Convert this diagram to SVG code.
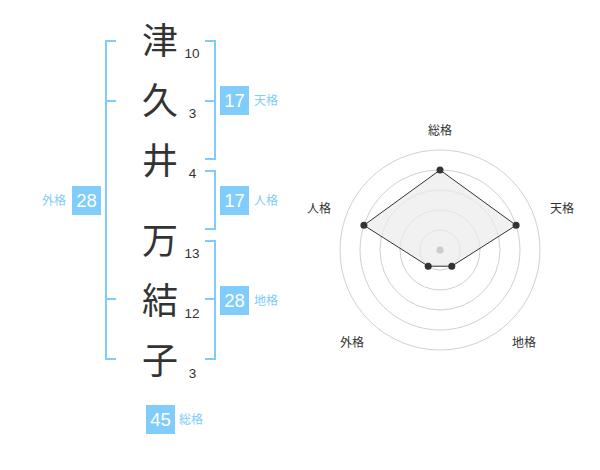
<svg xmlns="http://www.w3.org/2000/svg" width="600" height="470" viewBox="0 0 600 470">
<style>
.ch{font-family:"Noto Sans CJK JP","Noto Sans CJK SC",sans-serif;font-size:36px;fill:#333;text-anchor:middle}
.num{font-family:"Liberation Sans",Arial,sans-serif;font-size:13.5px;fill:#333;text-anchor:middle}
.br{fill:none;stroke:#80ccfa;stroke-width:2}
.box{fill:#80ccfa}
.bt{font-family:"Liberation Sans",Arial,sans-serif;font-size:18.5px;fill:#fff;text-anchor:middle}
.lb{font-family:"Noto Sans CJK JP","Noto Sans CJK SC",sans-serif;font-size:12px;fill:#80ccfa}
.rl{font-family:"Noto Sans CJK JP","Noto Sans CJK SC",sans-serif;font-size:12px;fill:#333;text-anchor:middle}
.ring{fill:none;stroke:#d0d0d0;stroke-width:1}
.dot{fill:#333}
</style>
<rect width="600" height="470" fill="#fff"/>
<g id="name">
<g id="c1"><text class="ch" x="160" y="53.7">津</text><text class="num" x="192" y="58">10</text></g>
<g id="c2"><text class="ch" x="160" y="113.7">久</text><text class="num" x="192.5" y="118">3</text></g>
<g id="c3"><text class="ch" x="160" y="173.7">井</text><text class="num" x="192.5" y="178">4</text></g>
<g id="c4"><text class="ch" x="160" y="253.7">万</text><text class="num" x="192" y="258">13</text></g>
<g id="c5"><text class="ch" x="160" y="313.7">結</text><text class="num" x="192" y="318">12</text></g>
<g id="c6"><text class="ch" x="160" y="373.7">子</text><text class="num" x="192.5" y="378">3</text></g>
</g>
<g id="connectors">
<path class="br" d="M116,41 H106 V359 H116 M106,101 H116 M106,299 H116"/>
<path class="br" d="M205,41 H215 V159 H205 M215,101 H205"/>
<path class="br" d="M205,171 H215 V229 H205"/>
<path class="br" d="M205,241 H215 V359 H205 M215,299 H205"/>
</g>
<g id="tenkaku"><rect class="box" x="220" y="86" width="29" height="29"/><text class="bt" x="234.5" y="107">17</text><text class="lb" x="254" y="104.5">天格</text></g>
<g id="jinkaku"><rect class="box" x="220" y="186" width="29" height="29"/><text class="bt" x="234.5" y="207">17</text><text class="lb" x="254" y="204.5">人格</text></g>
<g id="chikaku"><rect class="box" x="220" y="286" width="29" height="29"/><text class="bt" x="234.5" y="307">28</text><text class="lb" x="254" y="304.5">地格</text></g>
<g id="gaikaku"><rect class="box" x="72" y="186" width="29" height="29"/><text class="bt" x="86.5" y="207">28</text><text class="lb" x="66" y="204.5" text-anchor="end">外格</text></g>
<g id="soukaku"><rect class="box" x="146" y="405" width="29" height="29"/><text class="bt" x="160.5" y="426">45</text><text class="lb" x="179" y="424">総格</text></g>
<g id="radar">
<circle class="ring" cx="440" cy="250" r="20"/>
<circle class="ring" cx="440" cy="250" r="40"/>
<circle class="ring" cx="440" cy="250" r="60"/>
<circle class="ring" cx="440" cy="250" r="80"/>
<circle class="ring" cx="440" cy="250" r="100"/>
<polygon points="440,170 516.1,225.3 451.8,266.2 428.2,266.2 363.9,225.3" fill="#ebebeb" fill-opacity="0.7" stroke="#333" stroke-width="1"/>
<circle cx="440" cy="250" r="3.5" fill="#ccc"/>
<circle class="dot" cx="440" cy="170" r="3.5"/>
<circle class="dot" cx="516.1" cy="225.3" r="3.5"/>
<circle class="dot" cx="451.8" cy="266.2" r="3.5"/>
<circle class="dot" cx="428.2" cy="266.2" r="3.5"/>
<circle class="dot" cx="363.9" cy="225.3" r="3.5"/>
<text class="rl" x="440" y="134.5">総格</text>
<text class="rl" x="562" y="212.5">天格</text>
<text class="rl" x="319" y="212.5">人格</text>
<text class="rl" x="352" y="346.5">外格</text>
<text class="rl" x="524" y="346.5">地格</text>
</g>
</svg>
